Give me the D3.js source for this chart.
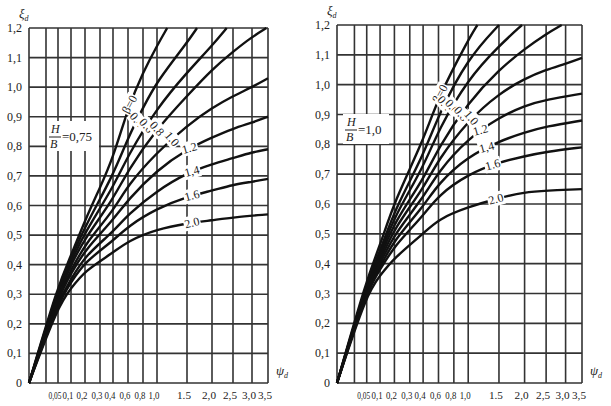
<!DOCTYPE html>
<html>
<head>
<meta charset="UTF-8">
<script src="https://d3js.org/d3.v7.min.js"></script>
<style>
  body { margin: 0; background: #fff; }
  text { font-family: "Liberation Serif", "DejaVu Serif", serif; fill: #222; }
</style>
</head>
<body>
<svg id="chart" width="611" height="406"></svg>
<script>
// x axis (psi_d) grid values and labels
var xGrid = [0, 0.02, 0.05, 0.1, 0.2, 0.3, 0.4, 0.6, 0.8, 1.0, 1.5, 2.0, 2.5, 3.0, 3.5];
var xGridRel = [0, 17, 29, 42, 56, 71, 84, 99, 114, 128, 158, 183, 204, 223, 239]; // nonlinear grid spacing / 239
var xTickLabels = ["0,05", "0,1", "0,2", "0,3", "0,4", "0,6", "0,8", "1,0", "1.5", "2,0", "2,5", "3,0", "3,5"];
var xTickValues = [0.05, 0.1, 0.2, 0.3, 0.4, 0.6, 0.8, 1.0, 1.5, 2.0, 2.5, 3.0, 3.5];
var yTicks = [0, 0.1, 0.2, 0.3, 0.4, 0.5, 0.6, 0.7, 0.8, 0.9, 1.0, 1.1, 1.2];

var betas = ["β=0", "0.4", "0.6", "0.8", "1.0", "1.2", "1,4", "1.6", "2.0"];

// H/B = 0.75 curves: [psi, xi]
var left = [
  [[0,0],[0.05,0.33],[0.1,0.43],[0.2,0.55],[0.3,0.66],[0.4,0.76],[0.6,0.93],[0.8,1.05],[1.0,1.14],[1.17,1.2]],
  [[0,0],[0.05,0.32],[0.1,0.42],[0.2,0.53],[0.4,0.70],[0.6,0.83],[0.8,0.93],[1.0,1.02],[1.5,1.15],[1.7,1.2]],
  [[0,0],[0.05,0.31],[0.1,0.41],[0.2,0.51],[0.4,0.66],[0.6,0.77],[1.0,0.93],[1.5,1.05],[2.0,1.14],[2.35,1.2]],
  [[0,0],[0.05,0.30],[0.1,0.40],[0.2,0.49],[0.4,0.62],[0.6,0.72],[1.0,0.86],[1.5,0.97],[2.0,1.06],[2.5,1.12],[3.0,1.17],[3.45,1.2]],
  [[0,0],[0.05,0.30],[0.1,0.38],[0.2,0.47],[0.4,0.58],[0.6,0.67],[1.0,0.78],[1.5,0.87],[2.0,0.93],[2.5,0.97],[3.0,1.0],[3.5,1.03]],
  [[0,0],[0.05,0.29],[0.1,0.37],[0.2,0.45],[0.4,0.55],[0.6,0.62],[1.0,0.72],[1.5,0.79],[2.0,0.83],[2.5,0.86],[3.0,0.88],[3.5,0.90]],
  [[0,0],[0.05,0.28],[0.1,0.35],[0.2,0.43],[0.4,0.51],[0.6,0.57],[1.0,0.65],[1.5,0.71],[2.0,0.74],[2.5,0.76],[3.0,0.78],[3.5,0.79]],
  [[0,0],[0.05,0.27],[0.1,0.34],[0.2,0.41],[0.4,0.48],[0.6,0.53],[1.0,0.59],[1.5,0.63],[2.0,0.65],[2.5,0.67],[3.0,0.68],[3.5,0.69]],
  [[0,0],[0.05,0.26],[0.1,0.32],[0.2,0.38],[0.4,0.44],[0.6,0.48],[1.0,0.52],[1.5,0.54],[2.0,0.55],[2.5,0.56],[3.5,0.57]]
];
// H/B = 1.0 curves
var right = [
  [[0,0],[0.05,0.35],[0.1,0.46],[0.2,0.61],[0.4,0.81],[0.6,0.96],[1.0,1.15],[1.15,1.2]],
  [[0,0],[0.05,0.34],[0.1,0.44],[0.2,0.58],[0.4,0.76],[0.6,0.90],[1.0,1.09],[1.5,1.2]],
  [[0,0],[0.05,0.33],[0.1,0.43],[0.2,0.56],[0.4,0.72],[0.6,0.85],[1.0,1.02],[1.5,1.13],[1.95,1.2]],
  [[0,0],[0.05,0.33],[0.1,0.42],[0.2,0.54],[0.4,0.68],[0.6,0.79],[1.0,0.94],[1.5,1.05],[2.0,1.12],[2.5,1.17],[2.9,1.2]],
  [[0,0],[0.05,0.32],[0.1,0.41],[0.2,0.52],[0.4,0.65],[0.6,0.75],[1.0,0.88],[1.5,0.97],[2.0,1.02],[2.5,1.05],[3.0,1.07],[3.5,1.09]],
  [[0,0],[0.05,0.32],[0.1,0.40],[0.2,0.50],[0.4,0.62],[0.6,0.71],[1.0,0.82],[1.5,0.89],[2.0,0.93],[2.5,0.95],[3.5,0.97]],
  [[0,0],[0.05,0.31],[0.1,0.39],[0.2,0.48],[0.4,0.59],[0.6,0.67],[1.0,0.76],[1.5,0.81],[2.0,0.84],[2.5,0.86],[3.5,0.88]],
  [[0,0],[0.05,0.31],[0.1,0.38],[0.2,0.46],[0.4,0.56],[0.6,0.63],[1.0,0.70],[1.5,0.74],[2.0,0.76],[2.5,0.775],[3.5,0.79]],
  [[0,0],[0.05,0.30],[0.1,0.36],[0.2,0.42],[0.4,0.50],[0.6,0.55],[1.0,0.59],[1.5,0.62],[2.0,0.64],[2.5,0.645],[3.5,0.65]]
];
// where along psi each beta label sits
var leftLabelAt = [0.62, 0.72, 0.85, 1.0, 1.25, 1.55, 1.6, 1.6, 1.6];
var rightLabelAt = [0.62, 0.68, 0.78, 0.9, 1.05, 1.2, 1.3, 1.4, 1.45];

var svg = d3.select("#chart");

function panel(x0, x1, y0, y1, curves, labelAt, ratio, hbPos) {
  var w = x1 - x0;
  var x = d3.scaleLinear().domain(xGrid).range(xGridRel.map(function(r){ return x0 + r / 239 * w; }));
  var y = d3.scaleLinear().domain([0, 1.2]).range([y0, y1]);
  var g = svg.append("g");

  // grid
  g.selectAll(".vg").data(xGrid).enter().append("line")
    .attr("x1", function(d){ return x(d); }).attr("x2", function(d){ return x(d); })
    .attr("y1", y0).attr("y2", y1)
    .attr("stroke", "#333").attr("stroke-width", 1.6);
  g.selectAll(".hg").data(yTicks).enter().append("line")
    .attr("x1", x0).attr("x2", x1)
    .attr("y1", function(d){ return y(d); }).attr("y2", function(d){ return y(d); })
    .attr("stroke", "#333").attr("stroke-width", 1.6);

  // y labels
  g.selectAll(".yl").data(yTicks).enter().append("text")
    .attr("x", x0 - 7).attr("y", function(d){ return y(d) + 4; })
    .attr("text-anchor", "end").attr("font-size", 12)
    .text(function(d){ return d === 0 ? "0" : d3.format(".1f")(d).replace(".", ","); });

  // x labels
  g.selectAll(".xl").data(xTickValues).enter().append("text")
    .attr("x", function(d){ return x(d) - 3; }).attr("y", y0 + 16)
    .attr("text-anchor", "middle").attr("font-size", 10)
    .attr("textLength", function(d, i){ return d < 1.1 ? (i === 0 ? 13 : 11) : 14; })
    .attr("lengthAdjust", "spacingAndGlyphs")
    .text(function(d, i){ return xTickLabels[i]; });

  // axis names
  g.append("text").attr("x", x0 - 10).attr("y", y1 - 10).attr("font-size", 13).attr("font-style", "italic").text("ξ")
    .append("tspan").attr("dy", 3).attr("font-size", 8).text("d");
  g.append("text").attr("x", x1 + 8).attr("y", y0 - 8).attr("font-size", 13).attr("font-style", "italic").text("ψ")
    .append("tspan").attr("dy", 3).attr("font-size", 8).text("d");

  // curves
  var line = d3.line().x(function(d){ return x(d[0]); }).y(function(d){ return y(d[1]); }).curve(d3.curveBasis);
  g.selectAll(".curve").data(curves).enter().append("path")
    .attr("d", line).attr("fill", "none").attr("stroke", "#111").attr("stroke-width", 2.4);

  // beta labels
  curves.forEach(function(c, i) {
    var interp = d3.scaleLinear().domain(c.map(function(p){ return p[0]; })).range(c.map(function(p){ return p[1]; }));
    var px = labelAt[i];
    var sx = x(px), sy = y(interp(px));
    var ang = i === 0 ? -62 : (i < 5 ? 50 : -15);
    var lg = g.append("g").attr("transform", "translate(" + sx + "," + sy + ") rotate(" + ang + ")");
    var t = lg.append("text").attr("text-anchor", "middle").attr("y", 4).attr("font-size", 12).text(betas[i]);
    var bb = t.node().getBBox();
    lg.insert("rect", "text").attr("x", bb.x - 1).attr("y", bb.y).attr("width", bb.width + 2).attr("height", bb.height).attr("fill", "#fff");
  });

  // H/B label
  var hb = g.append("g").attr("transform", "translate(" + hbPos[0] + "," + hbPos[1] + ")");
  hb.append("rect").attr("x", -2).attr("y", -16).attr("width", ratio.length * 6 + 28).attr("height", 30).attr("fill", "#fff");
  hb.append("text").attr("x", 2).attr("y", -4).attr("font-size", 12).attr("font-style", "italic").text("H");
  hb.append("line").attr("x1", 0).attr("x2", 12).attr("y1", 0).attr("y2", 0).attr("stroke", "#222");
  hb.append("text").attr("x", 1).attr("y", 11).attr("font-size", 12).attr("font-style", "italic").text("B");
  hb.append("text").attr("x", 13).attr("y", 4).attr("font-size", 13).text("=" + ratio);
}

panel(29, 268, 383, 28, left, leftLabelAt, "0,75", [49, 137]);
panel(337, 582, 383, 25, right, rightLabelAt, "1,0", [345, 130]);
</script>
</body>
</html>
